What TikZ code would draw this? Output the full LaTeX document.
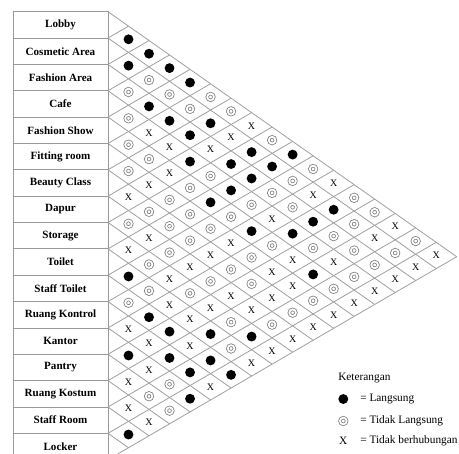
\documentclass[tikz,border=0pt]{standalone}
\usepackage{fontspec}
\setmainfont{Liberation Serif}

\begin{document}
\begin{tikzpicture}[
    x=0.75pt, y=-0.75pt,
    room/.style={rectangle, draw=gray!80, line width=0.6pt, minimum width=71.25pt, minimum height=19.76pt, inner sep=0pt, font=\fontsize{8.3}{9}\selectfont\bfseries},
    grid/.style={draw=gray!75, line width=0.6pt},
    symL/.style={circle, fill=black, inner sep=0pt, minimum size=7.4pt, node contents={}},
    symT/.style={circle, draw=gray, double=white, double distance=1.3pt, line width=0.6pt, inner sep=0pt, minimum size=5pt, node contents={}},
    symN/.style={inner sep=0pt, font=\fontsize{7.5}{7.5}\selectfont, node contents={X}},
    legtext/.style={anchor=west, inner sep=0pt, font=\fontsize{8.5}{9}\selectfont}
]
    \useasboundingbox (0,0) rectangle (459,453);
    \clip (0,0) rectangle (459,453);

    % room boxes
    \foreach \name [count=\i] in {Lobby, Cosmetic Area, Fashion Area, Cafe, Fashion Show, Fitting room, Beauty Class, Dapur, Storage, Toilet, Staff Toilet, Ruang Kontrol, Kantor, Pantry, Ruang Kostum, Staff Room, Locker}
        \node [room] (r\i) at (60.5, {11.7+26.35*(\i-0.5)}) {\name};

    % diamond grid
    \foreach \k in {0,...,16}
        \path [grid] (108, {11.7+26.35*\k}) -- ++({(17-\k)*20.512}, {(17-\k)*14.412});
    \foreach \k in {1,...,17}
        \path [grid] (108, {11.7+26.35*\k}) -- ++({\k*20.512}, {-\k*11.938});

    % relations: L = langsung, T = tidak langsung, N = tidak berhubungan
    \foreach \d/\row in {
        1/{L,L,T,T,T,T,N,T,N,L,T,N,L,N,N,L},
        2/{L,T,L,N,T,N,T,N,T,T,L,N,N,T,N},
        3/{L,T,L,N,N,T,T,T,N,N,L,L,T,T},
        4/{L,T,L,L,T,T,T,N,T,N,N,L,L},
        5/{T,L,N,T,L,T,N,T,N,L,L,N},
        6/{T,N,L,L,T,N,T,N,T,T,L},
        7/{N,L,L,T,L,T,T,N,L,N},
        8/{T,L,T,N,T,N,N,T,N},
        9/{L,T,T,L,N,N,T,N},
        10/{T,N,L,T,L,T,N},
        11/{N,L,T,N,T,N},
        12/{T,T,T,T,N},
        13/{T,N,T,N},
        14/{N,T,N},
        15/{T,N},
        16/{N}}
        \foreach \s [count=\i, evaluate=\i as \j using int(\i+\d)] in \row
            \node (p\i-\j) at ({108+20.512*\d}, {11.7+26.35*(\i-0.5)+14.412*\d}) [sym\s];

    % keterangan
    \node [legtext] (ket) at (338,378) {Keterangan};
    \node (kl) at (343.3,399) [symL];
    \node [legtext] (klt) at (360,399) {= Langsung};
    \node (kt) at (343.3,421) [symT];
    \node [legtext] (ktt) at (360,421) {= Tidak Langsung};
    \node [inner sep=0pt, font=\fontsize{8.5}{9}\selectfont] (kx) at (343.3,441) {X};
    \node [legtext] (kxt) at (360,441) {= Tidak berhubungan};
\end{tikzpicture}
\end{document}
